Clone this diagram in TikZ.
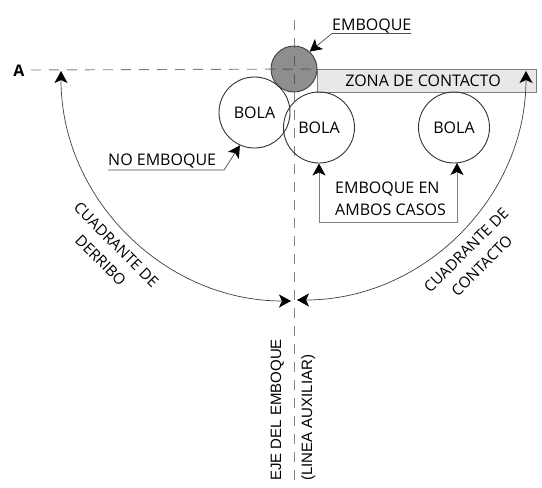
\documentclass[tikz,border=0pt]{standalone}
\usepackage{fontspec}
\setmainfont{Open Sans}
\newfontfamily\axisfont{Liberation Sans}
\usetikzlibrary{arrows.meta}
\definecolor{holegray}{HTML}{8E8E8E}
\definecolor{zonegray}{HTML}{E8E8E8}
\definecolor{axisgray}{HTML}{808080}
\tikzset{tip/.tip={Stealth[length=12pt,width=13pt,inset=3pt,black]}}
\tikzstyle{bola}=[circle,draw=black!80,line width=0.9pt,minimum size=71pt,inner sep=0pt,font=\fontsize{16}{18}\selectfont]
\tikzstyle{hole}=[circle,draw=black!75,fill=holegray,line width=0.9pt,minimum size=46pt,inner sep=0pt]
\tikzstyle{zone}=[draw=axisgray,fill=zonegray,line width=0.8pt,minimum width=219pt,minimum height=23pt,inner sep=0pt]
\tikzstyle{axisline}=[draw=axisgray,line width=0.9pt,dash pattern=on 10pt off 8pt]
\tikzstyle{label}=[inner sep=0pt,font=\fontsize{16}{18}\selectfont,align=left]
\tikzstyle{biglabel}=[inner sep=0pt,font=\fontsize{15.2}{22}\selectfont,align=center]
\tikzstyle{leader}=[draw=black!70,line width=0.7pt,-tip]
\tikzstyle{boxleader}=[draw=axisgray,line width=0.9pt,-tip]
\tikzstyle{quadrant}=[draw=black!75,line width=0.7pt,tip-tip]

\begin{document}
\begin{tikzpicture}[x=1pt,y=-1pt]
    \useasboundingbox (0,0) rectangle (542,488);

    \node[zone,anchor=north west] (zona) at (317,69) {};
    \node[label,anchor=base] (zonatext) at (423,86) {ZONA DE CONTACTO};
    \node[hole] (hoyo) at (294,69) {};

    % Ejes auxiliares
    \coordinate (ejetop) at (294,20);
    \coordinate (ejebottom) at (294,488);
    \coordinate (astart) at (31,70);
    \path[axisline] (ejetop) -- (ejebottom);
    \path[axisline] (astart) -- (hoyo.east);
    \begin{scope}
        \clip (hoyo) circle (22.5);
        \path[axisline,draw=black!65] (ejetop) -- (ejebottom);
        \path[axisline,draw=black!65] (astart) -- (hoyo.east);
    \end{scope}

    \foreach \pos/ \name in {{(254.5,112.5)/bola1},{(319,127.5)/bola2},{(454,127.5)/bola3}}
        \node[bola] (\name) at \pos {BOLA};

    \node[inner sep=0pt,font=\bfseries\fontsize{16}{18}\selectfont] (a) at (19,71) {A};

    % Rotulos con flecha
    \node[label,anchor=base west] (emboque) at (332,30.5) {EMBOQUE};
    \node[label,anchor=base west] (noemboque) at (108,165) {NO EMBOQUE};
    \coordinate (emboquel) at (332,33.5);
    \coordinate (emboquer) at (411,33.5);
    \coordinate (noemboquel) at (108,170);
    \coordinate (noemboquer) at (224,170);
    \draw[leader] (emboquer) -- (emboquel) -- (hoyo.48);
    \draw[leader] (noemboquel) -- (noemboquer) -- (bola1.-114);

    \node[label,anchor=north west,font=\fontsize{16}{22}\selectfont] (ambos) at (335,181.5) {EMBOQUE EN\\AMBOS CASOS};
    \coordinate (boxl) at (319,222);
    \coordinate (boxr) at (457,222);
    \coordinate (boxrtop) at (457,163);
    \draw[boxleader] (boxl) -- (bola2.south);
    \draw[boxleader] (boxl) -- (boxr) -- (boxrtop);

    % Cuadrantes
    \coordinate (leftend) at (61,71);
    \coordinate (rightend) at (526,71);
    \draw[quadrant] (leftend) arc[start angle=180,end angle=90,radius=230];
    \draw[quadrant] (rightend) arc[start angle=0,end angle=90,radius=229];

    \node[biglabel,rotate=-45] (derribo) at (108.5,252.5) {CUADRANTE DE\\DERRIBO};
    \node[biglabel,rotate=45] (contacto) at (474,258) {CUADRANTE DE\\CONTACTO};
    \node[rotate=90,anchor=west,align=left,inner sep=0pt,font=\axisfont\fontsize{15}{31}\selectfont] (ejetext) at (293,481) {EJE DEL EMBOQUE\\(LINEA AUXILIAR)};
\end{tikzpicture}
\end{document}
